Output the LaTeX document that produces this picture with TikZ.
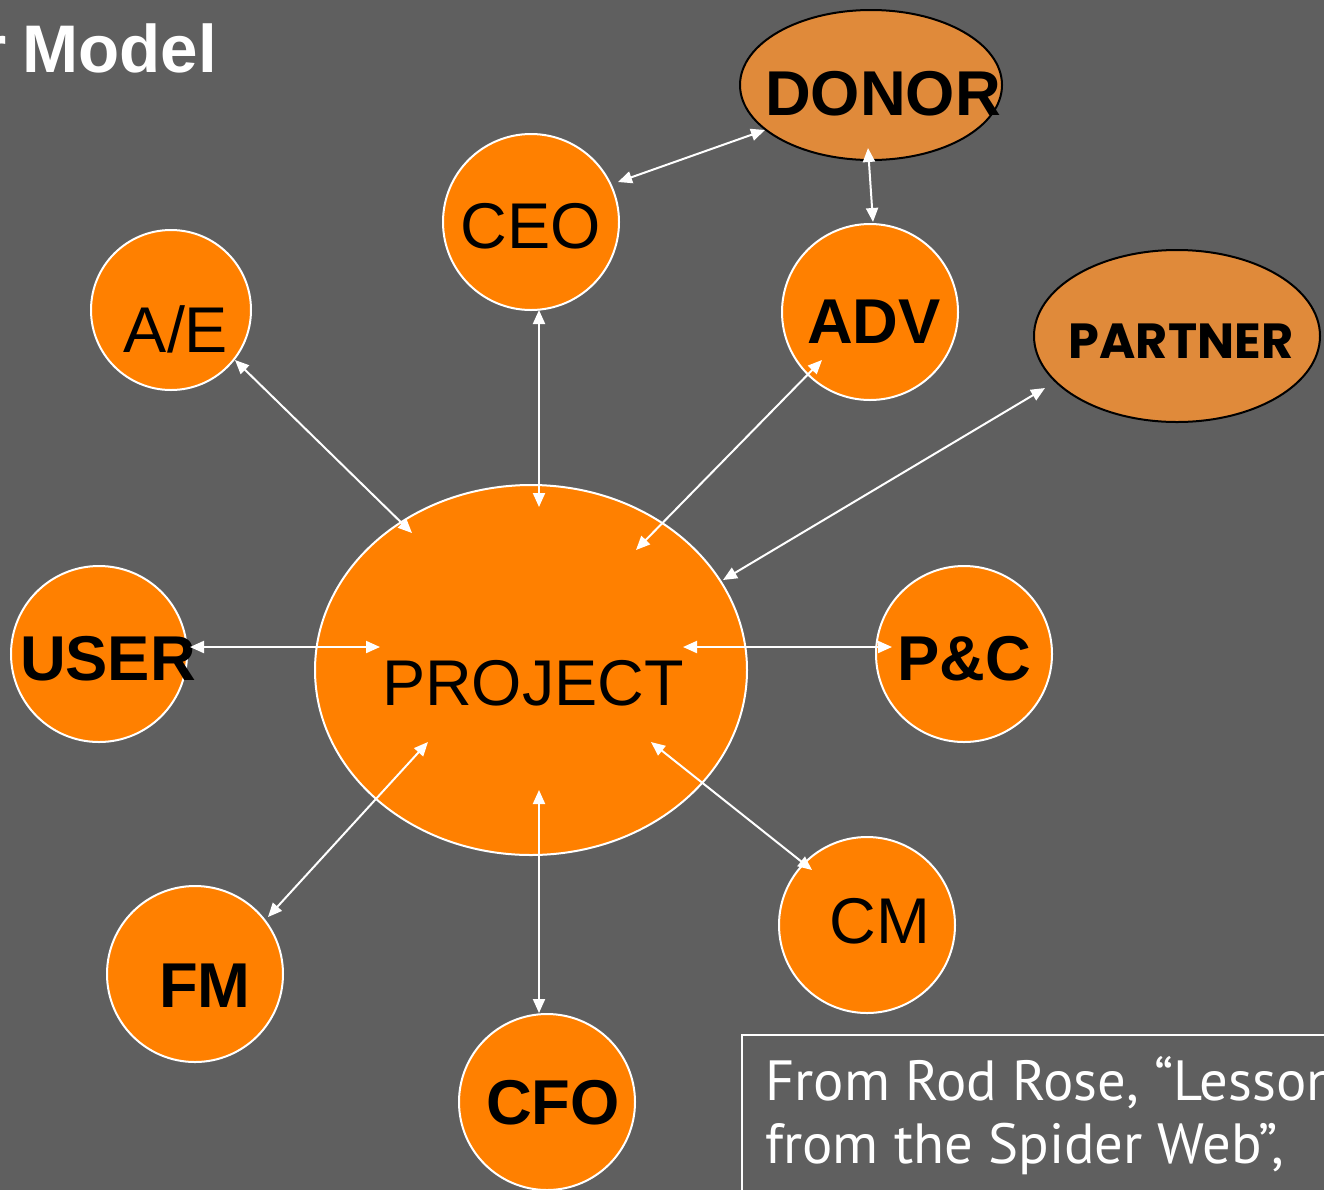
\documentclass[tikz,border=0pt]{standalone}
\usepackage{fontspec}
\setmainfont{Liberation Sans}
\newfontfamily\partnerfont{Poppins}
\newfontfamily\notefont{PT Sans}
\usetikzlibrary{arrows.meta,shapes.geometric}
\definecolor{bgc}{HTML}{5F5F5F}
\definecolor{orangec}{HTML}{FF8000}
\definecolor{ellc}{HTML}{E08A3A}
\tikzset{
  circ/.style={circle, fill=orangec, draw=white, line width=1.5pt, inner sep=0pt, minimum size=#1*1.5pt},
  ell/.style={ellipse, fill=ellc, draw=black, line width=1.5pt, inner sep=0pt},
  lbl/.style={text=black, inner sep=0pt, anchor=base},
  reg/.style={lbl, font=\fontsize{48.5}{54}\selectfont},
  bld/.style={lbl, font=\fontsize{47.5}{54}\selectfont\bfseries},
  titletext/.style={text=white, inner sep=0pt, font=\fontsize{50.5}{56}\selectfont\bfseries},
  notetext/.style={text=white, inner sep=0pt, anchor=base west, font=\fontsize{42.5}{48}\selectfont\notefont},
  link/.style={white, line width=1.5pt, {Triangle[length=10.5pt,width=9pt]}-{Triangle[length=10.5pt,width=9pt]}},
}
\begin{document}
\begin{tikzpicture}[x=0.75pt,y=-0.75pt]
\useasboundingbox (0,0) rectangle (1324,1190);
\clip (0,0) rectangle (1324,1190);
\fill[bgc] (0,0) rectangle (1324,1190);
% title
\node[titletext, anchor=base east] (titler) at (7,72) {r};
\node[titletext, anchor=base west] (title) at (22,72) {Model};
% nodes
\node[ell, minimum width=262*0.75pt, minimum height=150*0.75pt] (donor) at (871,85) {};
\node[ell, minimum width=286*0.75pt, minimum height=172*0.75pt] (partner) at (1177,336) {};
\node[ellipse, fill=orangec, draw=white, line width=1.5pt, inner sep=0pt, minimum width=432*0.75pt, minimum height=370*0.75pt] (project) at (531,670) {};
\node[circ=176*0.5] (ceo) at (531,222) {};
\node[circ=160*0.5] (ae) at (171,310) {};
\node[circ=176*0.5] (adv) at (870,312) {};
\node[circ=176*0.5] (user) at (99,654) {};
\node[circ=176*0.5] (pc) at (964,654) {};
\node[circ=176*0.5] (fm) at (195,974) {};
\node[circ=176*0.5] (cm) at (867,925) {};
\node[circ=176*0.5] (cfo) at (547,1102) {};
% labels
\node[bld] (tdonor) at (883,115) {DONOR};
\node[lbl, font=\fontsize{37}{42}\selectfont\partnerfont\bfseries] (tpartner) at (1181,358) {PARTNER};
\node[reg] (tceo) at (531,248) {CEO};
\node[reg] (tae) at (176,352) {A/E};
\node[bld] (tadv) at (874,343) {ADV};
\node[bld] (tuser) at (108,680) {USER};
\node[reg] (tproject) at (533,705) {PROJECT};
\node[bld] (tpc) at (964,680) {P\&C};
\node[bld] (tfm) at (205,1007) {FM};
\node[reg] (tcm) at (880,943) {CM};
\node[bld] (tcfo) at (553,1124) {CFO};
% arrow end points
\coordinate (a1) at (618,182); \coordinate (b1) at (765,130);
\coordinate (a2) at (868,148); \coordinate (b2) at (873,222);
\coordinate (a3) at (539,310); \coordinate (b3) at (539,507);
\coordinate (a4) at (235,360); \coordinate (b4) at (412,533);
\coordinate (a5) at (822,360); \coordinate (b5) at (636,550);
\coordinate (a6) at (1045,388); \coordinate (b6) at (723,580);
\coordinate (a7) at (190,647); \coordinate (b7) at (380,647);
\coordinate (a8) at (683,647); \coordinate (b8) at (892,647);
\coordinate (a9) at (428,742); \coordinate (b9) at (268,917);
\coordinate (a10) at (539,790); \coordinate (b10) at (539,1013);
\coordinate (a11) at (651,742); \coordinate (b11) at (812,870);
\foreach \i in {1,...,11} \draw[link] (a\i) -- (b\i);
% note box
\draw[white, line width=1.2pt] (742,1035) rectangle (1340,1210);
\node[notetext] (note1) at (765,1100) {From Rod Rose, “Lessons};
\node[notetext] (note2) at (765,1163) {from the Spider Web”,};
\end{tikzpicture}
\end{document}
